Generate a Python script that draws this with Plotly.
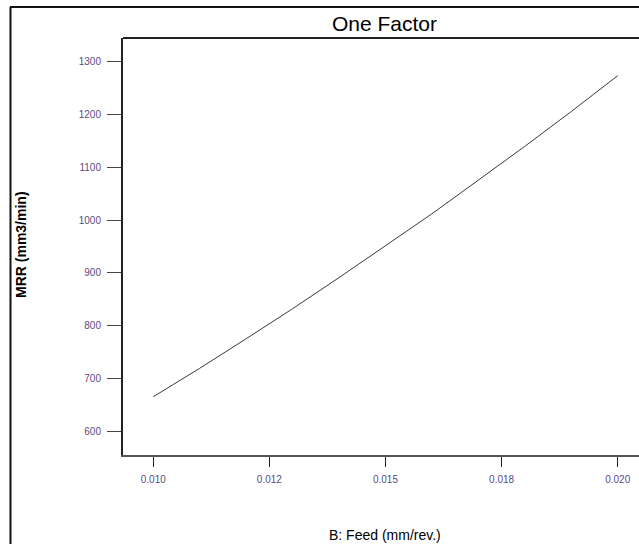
import plotly.graph_objects as go

# Data
feed = [0.010, 0.011, 0.012, 0.013, 0.014, 0.015, 0.016, 0.017, 0.018, 0.019, 0.020]
mrr = [665, 719, 775, 832, 891, 951, 1012, 1076, 1140, 1206, 1274]

x_tickvals = [0.010, 0.0125, 0.015, 0.0175, 0.020]
x_ticktext = ["0.010", "0.012", "0.015", "0.018", "0.020"]
y_tickvals = [600, 700, 800, 900, 1000, 1100, 1200, 1300]
y_ticktext = ["600", "700", "800", "900", "1000", "1100", "1200", "1300"]

W, H = 639, 544
L, T, B, R = 123, 38, 89, 0
pw, ph = W - L - R, H - T - B

def px(x):
    return (x - L) / pw

def py(y):
    return (H - B - y) / ph

fig = go.Figure()
fig.add_trace(go.Scatter(x=feed, y=mrr, mode="lines",
                         line=dict(color="#3a3a3a", width=1), showlegend=False))

tick_font = dict(family="Liberation Sans, Arial, sans-serif", size=10, color="#5e4a80")

fig.update_layout(
    width=W, height=H,
    margin=dict(l=L, r=R, t=T, b=B, pad=0),
    plot_bgcolor="white", paper_bgcolor="white",
    xaxis=dict(range=[0.009348, 0.020459], tickvals=x_tickvals, ticktext=x_ticktext,
               ticks="outside", ticklen=10, tickwidth=1, tickcolor="#222",
               showline=True, linecolor="#555", linewidth=2, showgrid=False,
               zeroline=False, tickfont=tick_font, ticklabelstandoff=4),
    yaxis=dict(range=[554.5, 1345.5], tickvals=y_tickvals, ticktext=y_ticktext,
               ticks="outside", ticklen=14, tickwidth=1, tickcolor="#444",
               showline=True, linecolor="#222", linewidth=2, showgrid=False,
               zeroline=False, tickfont=tick_font, ticklabelstandoff=4),
    shapes=[
        # top edge of plot frame
        dict(type="line", xref="paper", yref="paper", x0=0, x1=1, y0=1, y1=1,
             line=dict(color="#222", width=2)),
        # outer border (left and top)
        dict(type="line", xref="paper", yref="paper", x0=px(10.5), x1=px(10.5),
             y0=py(7), y1=py(546), line=dict(color="#111", width=2)),
        dict(type="line", xref="paper", yref="paper", x0=px(10), x1=px(641),
             y0=py(7), y1=py(7), line=dict(color="#111", width=2)),
    ],
    annotations=[
        dict(text="One Factor", xref="paper", yref="paper", x=px(384), y=py(24),
             xanchor="center", yanchor="middle", showarrow=False,
             font=dict(family="Liberation Sans, Arial, sans-serif", size=21, color="black")),
        dict(text="<b>MRR (mm3/min)</b>", xref="paper", yref="paper", x=px(21), y=py(245),
             xanchor="center", yanchor="middle", textangle=-90, showarrow=False,
             font=dict(family="Liberation Sans, Arial, sans-serif", size=14, color="black")),
        dict(text="B: Feed (mm/rev.)", xref="paper", yref="paper", x=px(385), y=py(535),
             xanchor="center", yanchor="middle", showarrow=False,
             font=dict(family="Liberation Sans, Arial, sans-serif", size=14, color="black")),
    ],
)

fig.write_html("out.html")
